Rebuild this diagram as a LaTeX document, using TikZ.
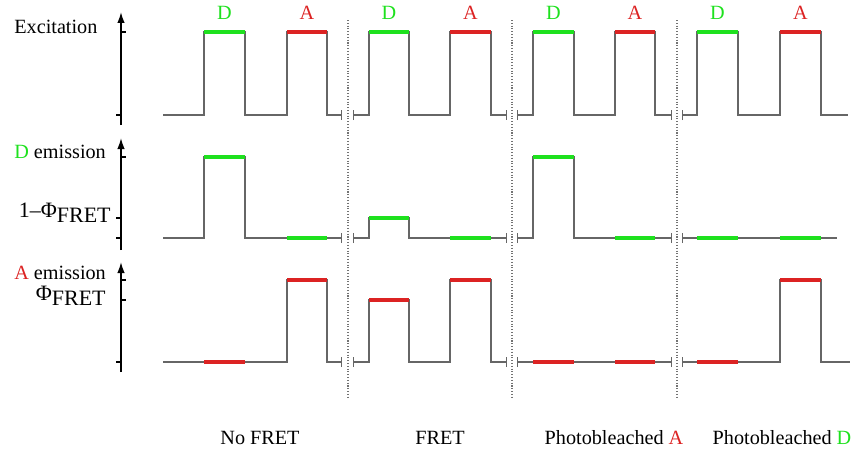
\documentclass[tikz,border=0pt]{standalone}
\usepackage{fontspec}
\setmainfont{Liberation Serif}
\usepackage{tikz}
\usetikzlibrary{arrows.meta,positioning}
\definecolor{dgreen}{RGB}{30,225,30}
\definecolor{ared}{RGB}{220,35,35}

\begin{document}
\begin{tikzpicture}[
  x=0.02cm, y=-0.02cm,
  every node/.style={font=\fontsize{11.5}{13}\selectfont, inner sep=0pt},
  trace/.style={black!60, line width=0.6pt},
  brkL/.style={{Bar[width=2mm]}-},
  brkR/.style={-{Bar[width=2mm]}},
  brkLR/.style={{Bar[width=2mm]}-{Bar[width=2mm]}},
  don/.style={dgreen, line width=2pt},
  acc/.style={ared, line width=2pt},
  axis/.style={-{Latex[length=2.2mm,width=1.5mm]}, line width=0.9pt},
  tick/.style={line width=0.6pt},
  sep/.style={densely dotted, black!55, line width=0.6pt},
]
\useasboundingbox (0,0) rectangle (854,450);

% axes
\draw[axis] (121,125) -- (121,12);
\draw[tick] (121,32) -- (126,32);
\draw[tick] (116,115) -- (121,115);
\draw[axis] (121,250) -- (121,138);
\draw[tick] (121,157) -- (126,157);
\draw[tick] (116,218) -- (121,218);
\draw[tick] (116,238) -- (121,238);
\draw[axis] (121,372) -- (121,262);
\draw[tick] (121,280) -- (126,280);
\draw[tick] (121,300) -- (126,300);
\draw[tick] (116,362) -- (121,362);

% axis labels
\node[anchor=west] (exc) at (14,27) {Excitation};
\node[anchor=west] (demis) at (14,152) {{\color{dgreen}D} emission};
\node[anchor=east] (dlow) at (111,213) {\fontsize{12.5}{14}\selectfont 1–Φ\raisebox{-0.45ex}{FRET}};
\node[anchor=west] (aemis) at (14,273) {{\color{ared}A} emission};
\node[anchor=east] (alow) at (106,296) {\fontsize{12.5}{14}\selectfont Φ\raisebox{-0.45ex}{FRET}};

% separators
\draw[sep] (348,20) -- (348,398);
\draw[sep] (512,20) -- (512,398);
\draw[sep] (677,20) -- (677,398);

% excitation
\draw[trace, brkR] (163,115) -| (204,32) -| (245,115) -| (287,32) -| (327,115) -- (342,115);
\draw[trace, brkLR] (353,115) -| (369,32) -| (409,115) -| (450,32) -| (491,115) -- (507,115);
\draw[trace, brkLR] (517,115) -| (533,32) -| (574,115) -| (615,32) -| (655,115) -- (672,115);
\draw[trace, brkL] (682,115) -| (697,32) -| (738,115) -| (780,32) -| (821,115) -- (848,115);
\draw[don] (204,32) -- (245,32);
\draw[acc] (287,32) -- (327,32);
\draw[don] (369,32) -- (409,32);
\draw[acc] (450,32) -- (491,32);
\draw[don] (533,32) -- (574,32);
\draw[acc] (615,32) -- (655,32);
\draw[don] (697,32) -- (738,32);
\draw[acc] (780,32) -- (821,32);
\node[text=dgreen] (d1) at (224.5,13) {D};
\node[text=ared] (a1) at (307,13) {A};
\node[text=dgreen] (d2) at (389,13) {D};
\node[text=ared] (a2) at (470.5,13) {A};
\node[text=dgreen] (d3) at (553.5,13) {D};
\node[text=ared] (a3) at (635,13) {A};
\node[text=dgreen] (d4) at (717.5,13) {D};
\node[text=ared] (a4) at (800.5,13) {A};

% D emission
\draw[trace, brkR] (163,238) -| (204,157) -| (245,238) -- (342,238);
\draw[trace, brkLR] (353,238) -| (369,218) -| (409,238) -- (507,238);
\draw[trace, brkLR] (517,238) -| (533,157) -| (574,238) -- (672,238);
\draw[trace, brkL] (682,238) -- (837,238);
\draw[don] (204,157) -- (245,157);
\draw[don] (287,238) -- (327,238);
\draw[don] (369,218) -- (409,218);
\draw[don] (450,238) -- (491,238);
\draw[don] (533,157) -- (574,157);
\draw[don] (615,238) -- (655,238);
\draw[don] (697,238) -- (738,238);
\draw[don] (780,238) -- (821,238);

% A emission
\draw[trace, brkR] (163,362) -| (287,280) -| (327,362) -- (342,362);
\draw[trace, brkLR] (353,362) -| (369,300) -| (409,362) -| (450,280) -| (491,362) -- (507,362);
\draw[trace, brkLR] (517,362) -- (672,362);
\draw[trace, brkL] (682,362) -| (780,280) -| (821,362) -- (850,362);
\draw[acc] (204,362) -- (245,362);
\draw[acc] (287,280) -- (327,280);
\draw[acc] (369,300) -- (409,300);
\draw[acc] (450,280) -- (491,280);
\draw[acc] (533,362) -- (574,362);
\draw[acc] (615,362) -- (655,362);
\draw[acc] (697,362) -- (738,362);
\draw[acc] (780,280) -- (821,280);

% case labels
\node (nofret) at (260,438) {No FRET};
\node (fret) at (440,438) {FRET};
\node (pba) at (614,438) {Photobleached {\color{ared}A}};
\node (pbd) at (782,438) {Photobleached {\color{dgreen}D}};

\end{tikzpicture}
\end{document}
